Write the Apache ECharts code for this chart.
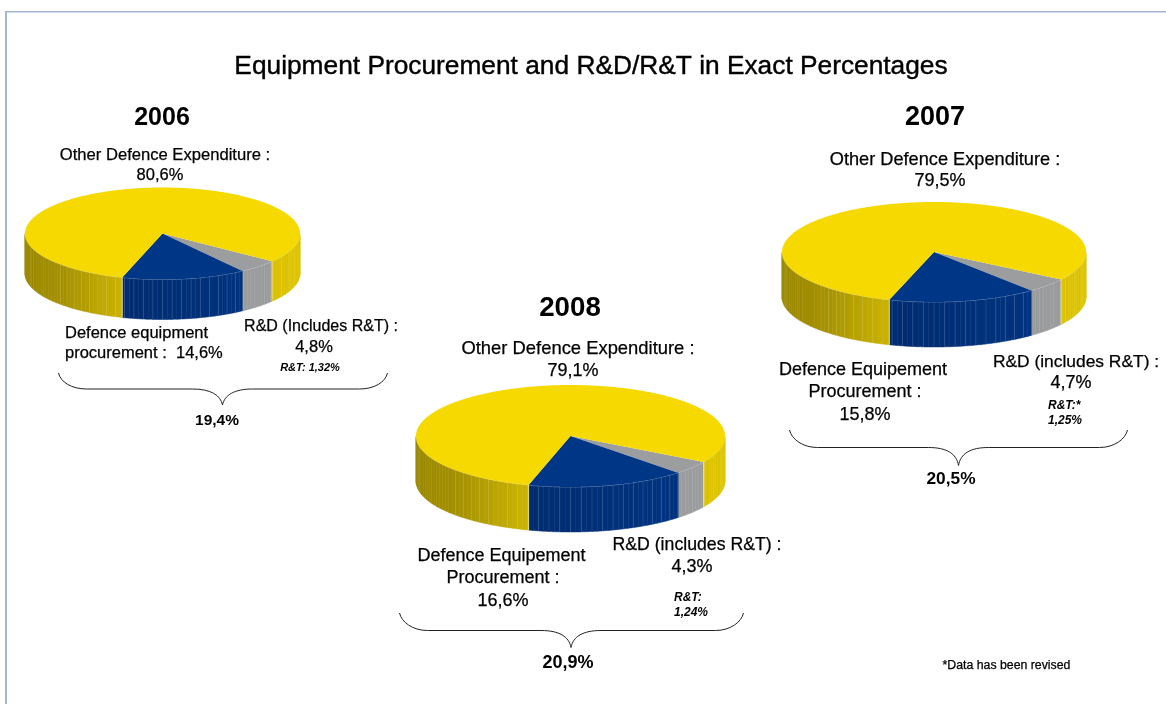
<!DOCTYPE html>
<html>
<head>
    <meta charset="utf-8">
    <title>Equipment Procurement and R&amp;D/R&amp;T</title>
    <script src="https://cdn.jsdelivr.net/npm/echarts@6/dist/echarts.min.js"></script>
    <style>
        html, body { margin: 0; padding: 0; background: #fff; }
    </style>
</head>
<body>
    <div id="main" style="width:1166px;height:704px;"></div>
<script>
var chartTitle = 'Equipment Procurement and R&D/R&T in Exact Percentages';
var footNote = '*Data has been revised';
var years = ['2006', '2007', '2008'];
var sliceNames = ['R&D', 'Procurement', 'Other'];
var rdShare = [4.8, 4.7, 4.3];
var procurementShare = [14.6, 15.8, 16.6];
var otherShare = [80.6, 79.5, 79.1];
var rtShare = ['1,32', '1,25', '1,24'];
var totals = ['19,4%', '20,5%', '20,9%'];

// where each pie sits on the page
var pieBoxes = [
    {cx: 162.5, cy: 233.5, rx: 137.5, ry: 46, depth: 40, start: 127.2},
    {cx: 934, cy: 252, rx: 152, ry: 50, depth: 45, start: 123.3},
    {cx: 570.5, cy: 436, rx: 154.5, ry: 51, depth: 45, start: 120.5}
];
var sliceTop = ['#9c9d9f', '#003686', '#f5d900'];

function lerpColor(stops, t) {
    var i = 0;
    while (i < stops.length - 2 && t > stops[i + 1][0]) i++;
    var a = stops[i], b = stops[i + 1];
    var k = Math.max(0, Math.min(1, (t - a[0]) / (b[0] - a[0])));
    var c = [0, 1, 2].map(function (n) {
        return Math.round(a[1][n] + (b[1][n] - a[1][n]) * k);
    });
    return 'rgb(' + c.join(',') + ')';
}
var wallStops = [
    [[0, [155, 156, 158]], [1, [155, 156, 158]]],
    [[0, [0, 42, 108]], [0.3, [0, 43, 110]], [0.8, [0, 51, 127]], [1, [0, 51, 127]]],
    [[0, [155, 136, 0]], [0.14, [165, 145, 0]], [0.33, [200, 177, 0]], [1, [222, 196, 0]]]
];

function makeRenderItem(box) {
    var px = function (a) { return box.cx + box.rx * Math.sin(a * Math.PI / 180); };
    var py = function (a) { return box.cy - box.ry * Math.cos(a * Math.PI / 180); };
    var arc = function (a0, a1, dy) {
        var pts = [];
        var n = Math.max(2, Math.ceil((a1 - a0) * 2));
        for (var i = 0; i <= n; i++) {
            var a = a0 + (a1 - a0) * i / n;
            pts.push([px(a), py(a) + dy]);
        }
        return pts;
    };
    return function (params, api) {
        var a0 = box.start + api.value(1) * 3.6;
        var a1 = a0 + api.value(0) * 3.6;
        var idx = params.dataIndex;
        var children = [];
        var seams = [];
        // side wall, only the part that faces us, shaded in 2 degree steps
        [0, 360].forEach(function (k) {
            var lo = Math.max(a0, 90 + k), hi = Math.min(a1, 270 + k);
            if (hi <= lo) return;
            var a = lo;
            while (a < hi - 0.001) {
                var next = Math.min(hi, (Math.floor(a / 2 + 1e-6) + 1) * 2);
                var top = arc(a, next, 0), bottom = arc(a, next, box.depth).reverse();
                var t = (px((a + next) / 2) - box.cx + box.rx) / (2 * box.rx);
                var col = lerpColor(wallStops[idx], t);
                children.push({
                    type: 'polygon', shape: {points: top.concat(bottom)},
                    style: {fill: col, stroke: col, lineWidth: 0.5}
                });
                var fromDown = next - k - 180;
                // seams every 4 degrees, thinning out towards the right of the wall
                var onSeam = next % 4 === 0 && !(fromDown < -50 && next % 8 === 4);
                if (next < hi && onSeam && fromDown < 49 && fromDown > -76) {
                    seams.push({
                        type: 'line',
                        shape: {x1: px(next), y1: py(next), x2: px(next), y2: py(next) + box.depth},
                        style: {stroke: 'rgba(255,255,255,' + (idx === 0 ? 0.05 : 0.12) + ')', lineWidth: 1}
                    });
                }
                a = next;
            }
            seams.push({
                type: 'polyline', shape: {points: arc(lo, hi, 0)},
                style: {fill: null, stroke: 'rgba(255,255,255,0.3)', lineWidth: 1}
            });
        });
        children = children.concat(seams);
        // light seam where the yellow slice starts and ends on the wall
        if (idx === 2) {
            [a0, a1].forEach(function (a) {
                children.push({
                    type: 'line',
                    shape: {x1: px(a), y1: py(a), x2: px(a), y2: py(a) + box.depth},
                    style: {stroke: 'rgba(255,255,255,0.55)', lineWidth: 1}
                });
            });
        }
        // top face
        var pts = [[box.cx, box.cy]].concat(arc(a0, a1, 0));
        children.push({
            type: 'polygon', shape: {points: pts},
            style: {fill: sliceTop[idx]}
        });
        return {type: 'group', children: children};
    };
}

var series = years.map(function (year, i) {
    var values = [rdShare[i], procurementShare[i], otherShare[i]];
    var cum = 0;
    var rows = values.map(function (v, j) {
        var row = {name: sliceNames[j], value: [v, cum]};
        cum += v;
        return row;
    });
    return {
        type: 'custom',
        name: year,
        coordinateSystem: 'none',
        silent: true,
        renderItem: makeRenderItem(pieBoxes[i]),
        data: rows
    };
});

function txt(text, x, y, size, opt) {
    opt = opt || {};
    return {
        type: 'text', x: x, y: y + 1, silent: true,
        style: {
            text: text, fill: '#000',
            stroke: opt.bold ? null : '#000', lineWidth: opt.bold ? 0 : 0.25,
            font: (opt.italic ? 'italic ' : '') + (opt.bold ? 'bold ' : '') + size + 'px "Liberation Sans"',
            align: opt.left ? 'left' : 'center', verticalAlign: 'middle'
        }
    };
}
// curly bracket under a pie, made of four curves and two straight runs
function brace(x0, x1, peak, y0, y1, y2) {
    var st = {fill: null, stroke: '#222', lineWidth: 1};
    var curve = function (ax, ay, c1x, c1y, c2x, c2y, bx, by) {
        return {type: 'bezierCurve', silent: true, style: st,
            shape: {x1: ax, y1: ay, cpx1: c1x, cpy1: c1y, cpx2: c2x, cpy2: c2y, x2: bx, y2: by}};
    };
    var run = function (ax, bx) {
        return {type: 'line', silent: true, style: st, shape: {x1: ax, y1: y1, x2: bx, y2: y1}};
    };
    return {
        type: 'group',
        children: [
            curve(x0, y0, x0 + 2, y0 + 9, x0 + 13, y1, x0 + 28, y1),
            run(x0 + 28, peak - 30),
            curve(peak - 30, y1, peak - 12, y1, peak - 2, y1 + 6, peak, y2),
            curve(peak, y2, peak + 2, y1 + 6, peak + 12, y1, peak + 30, y1),
            run(peak + 30, x1 - 28),
            curve(x1 - 28, y1, x1 - 13, y1, x1 - 2, y0 + 9, x1, y0)
        ]
    };
}
var pct = function (v) { return String(v).replace('.', ',') + '%'; };

var graphics = [
    {type: 'line', silent: true, shape: {x1: 5, y1: 11.75, x2: 1166, y2: 11.75}, style: {stroke: '#a3b8d0', lineWidth: 1.5}},
    {type: 'line', silent: true, shape: {x1: 6, y1: 11, x2: 6, y2: 704}, style: {stroke: '#a3b8d0', lineWidth: 2}},

    txt(years[0], 162, 117, 25, {bold: true}),
    txt('Other Defence Expenditure :', 165, 154, 16.6),
    txt(pct(otherShare[0]), 160, 174, 16.5),
    txt('Defence equipment', 65, 332, 16.5, {left: true}),
    txt('procurement :  ' + pct(procurementShare[0]), 65, 352, 16.5, {left: true}),
    txt('R&D (Includes R&T) :', 321, 326, 16),
    txt(pct(rdShare[0]), 314, 346, 16.5),
    txt('R&T: ' + rtShare[0] + '%', 310, 367, 11, {bold: true, italic: true}),
    txt(totals[0], 217, 420, 15.5, {bold: true}),
    brace(58.5, 387.5, 222.5, 373, 389, 405),

    txt(years[1], 935, 117, 27, {bold: true}),
    txt('Other Defence Expenditure :', 945, 159, 18.2),
    txt(pct(otherShare[1]), 940, 180, 18),
    txt('Defence Equipement', 863, 369, 18),
    txt('Procurement :', 865, 391, 18),
    txt(pct(procurementShare[1]), 865, 414, 18),
    txt('R&D (includes R&T) :', 1076, 361, 17.4),
    txt(pct(rdShare[1]), 1071, 382, 18),
    txt('R&T:*', 1048, 405, 12, {bold: true, italic: true, left: true}),
    txt(rtShare[1] + '%', 1048, 420, 12, {bold: true, italic: true, left: true}),
    txt(totals[1], 951, 478, 17.3, {bold: true}),
    brace(789.5, 1127.5, 958.5, 430, 447.5, 465.5),

    txt(years[2], 570, 307, 27.7, {bold: true}),
    txt('Other Defence Expenditure :', 578, 348, 18.4),
    txt(pct(otherShare[2]), 573, 370, 18),
    txt('Defence Equipement', 501.5, 555, 18),
    txt('Procurement :', 503, 577, 18),
    txt(pct(procurementShare[2]), 503, 600, 18),
    txt('R&D (includes R&T) :', 697, 544, 17.7),
    txt(pct(rdShare[2]), 692, 566, 18),
    txt('R&T:', 674, 597, 12, {bold: true, italic: true, left: true}),
    txt(rtShare[2] + '%', 674, 612, 12, {bold: true, italic: true, left: true}),
    txt(totals[2], 568, 662, 18, {bold: true}),
    brace(399.5, 743.5, 571, 613, 630.5, 647.5),

    txt(footNote, 1006.5, 665, 12.3)
];

var myChart = echarts.init(document.getElementById('main'));
var option = {
    animation: false,
    backgroundColor: '#fff',
    title: {
        text: chartTitle,
        left: 586,
        top: 62,
        textAlign: 'center',
        textVerticalAlign: 'middle',
        textStyle: {
            color: '#000', fontFamily: 'Liberation Sans', fontSize: 26.3, fontWeight: 'normal',
            textBorderColor: '#000', textBorderWidth: 0.4
        }
    },
    graphic: graphics,
    series: series
};
myChart.setOption(option);
</script>
</body>
</html>
